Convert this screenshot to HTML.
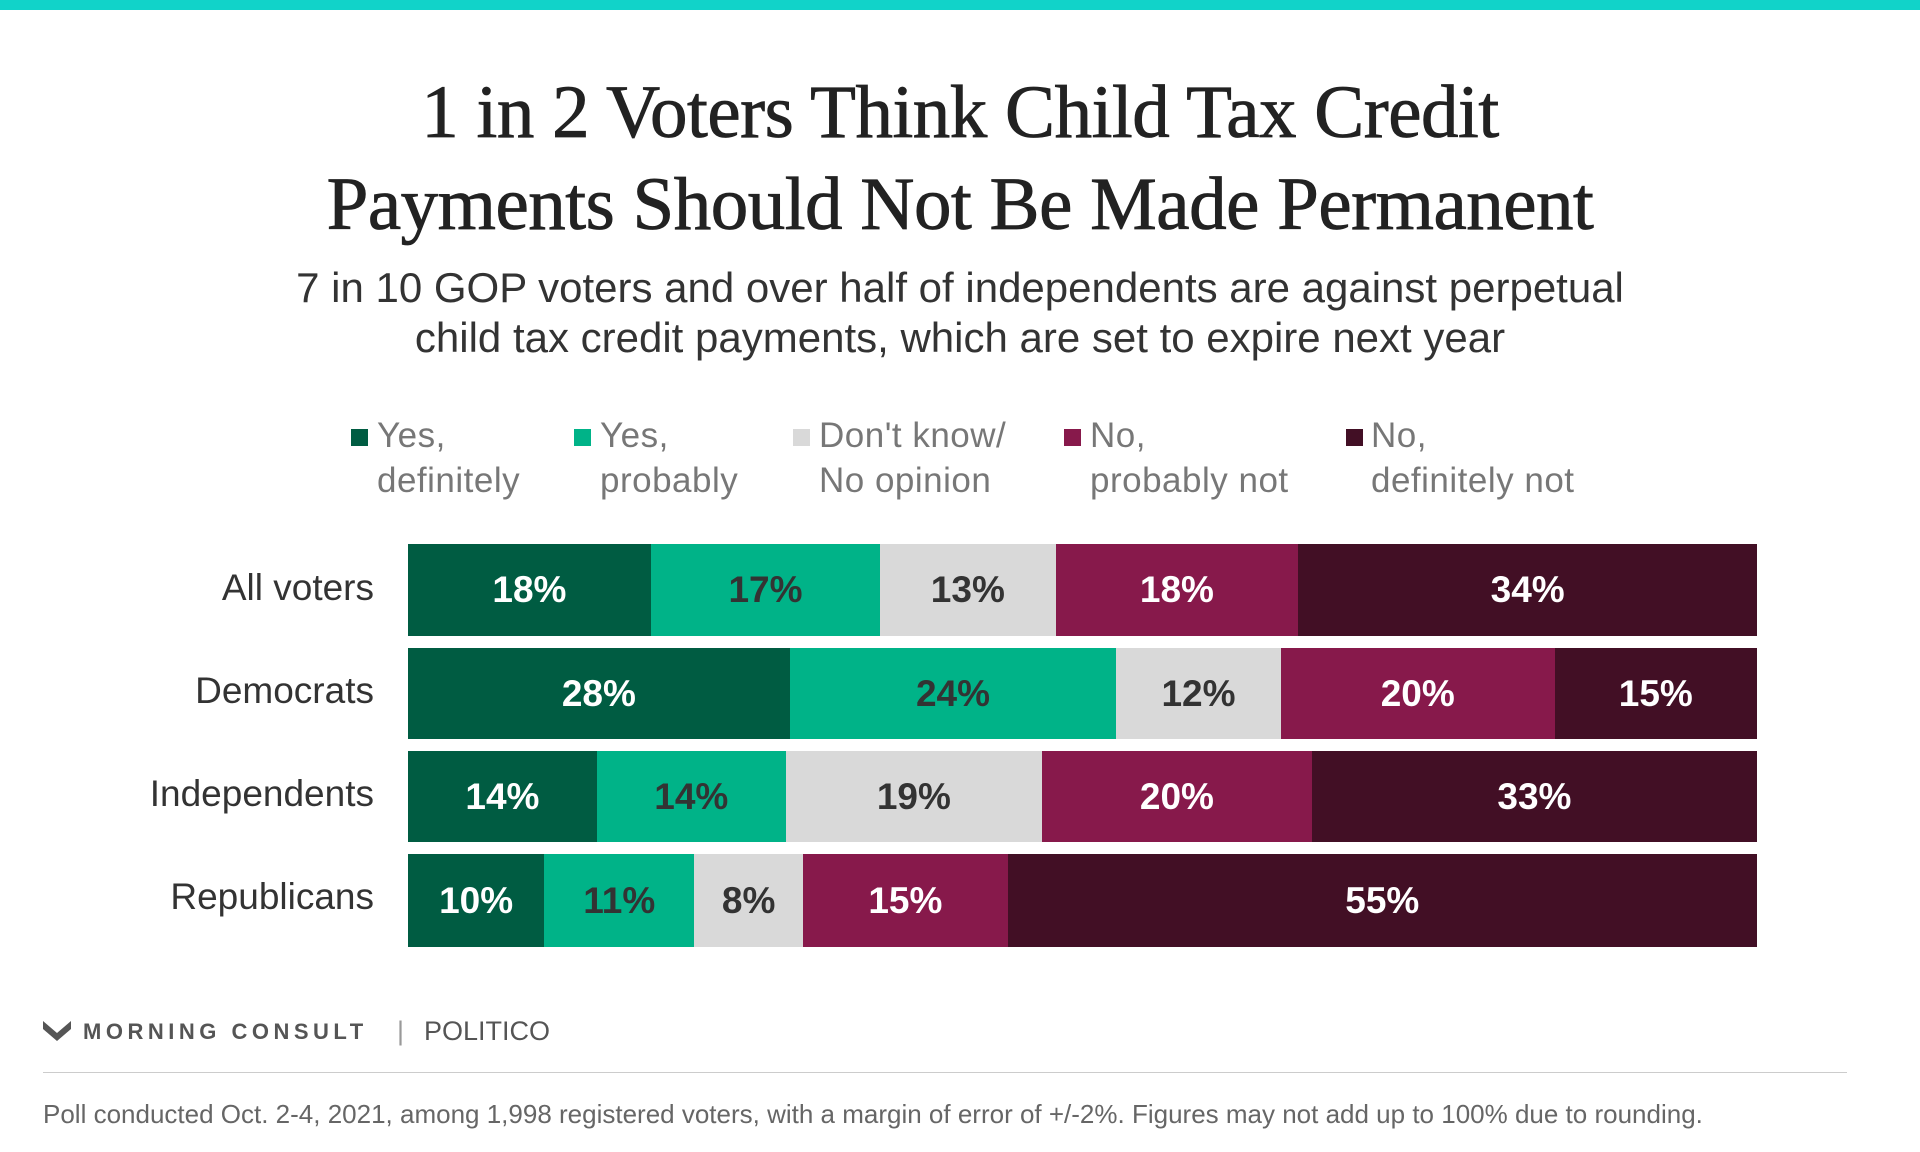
<!DOCTYPE html>
<html><head><meta charset="utf-8"><style>
body{margin:0;width:1920px;height:1152px;background:#fff;position:relative;overflow:hidden;font-family:"Liberation Sans",sans-serif}
.a{position:absolute;white-space:nowrap}
.t{left:0;width:1920px;text-align:center;font-family:"Liberation Serif",serif;font-size:75px;color:#222;letter-spacing:-0.5px;-webkit-text-stroke:0.8px #222}
.s{left:0;width:1920px;text-align:center;font-size:42px;color:#333}
.sq{position:absolute;width:17px;height:17px}
.lg{font-size:35px;color:#777;line-height:45px;letter-spacing:0.5px}
.row{position:absolute;left:408px;width:1349px;display:flex}
.row div{height:100%;display:flex;align-items:center;justify-content:center;font-weight:bold;font-size:37px;color:#fff}
.c1{background:#005c42}.c2{background:#00b388;color:#333!important}.c3{background:#d9d9d9;color:#333!important}.c4{background:#87194b}.c5{background:#420f25}
.rl{right:1546px;font-size:37px;color:#333;text-align:right}
</style></head><body>
<div class="a" style="left:0;top:0;width:1920px;height:10px;background:#11d3c9"></div>
<div class="a t" style="top:70px">1 in 2 Voters Think Child Tax Credit</div>
<div class="a t" style="top:162px">Payments Should Not Be Made Permanent</div>
<div class="a s" style="top:264px">7 in 10 GOP voters and over half of independents are against perpetual</div>
<div class="a s" style="top:314px">child tax credit payments, which are set to expire next year</div>

<div class="sq c1" style="left:351px;top:429px"></div>
<div class="a lg" style="left:377px;top:413px">Yes,<br>definitely</div>
<div class="sq c2" style="left:574px;top:429px"></div>
<div class="a lg" style="left:600px;top:413px">Yes,<br>probably</div>
<div class="sq c3" style="left:793px;top:429px"></div>
<div class="a lg" style="left:819px;top:413px">Don't know/<br>No opinion</div>
<div class="sq c4" style="left:1064px;top:429px"></div>
<div class="a lg" style="left:1090px;top:413px">No,<br>probably not</div>
<div class="sq c5" style="left:1346px;top:429px"></div>
<div class="a lg" style="left:1371px;top:413px">No,<br>definitely not</div>

<div class="a rl" style="top:567px">All voters</div>
<div class="row" style="top:544px;height:92px">
<div class="c1" style="flex:18">18%</div><div class="c2" style="flex:17">17%</div><div class="c3" style="flex:13">13%</div><div class="c4" style="flex:18">18%</div><div class="c5" style="flex:34">34%</div></div>
<div class="a rl" style="top:670px">Democrats</div>
<div class="row" style="top:648px;height:91px">
<div class="c1" style="flex:28.3">28%</div><div class="c2" style="flex:24.2">24%</div><div class="c3" style="flex:12.2">12%</div><div class="c4" style="flex:20.3">20%</div><div class="c5" style="flex:15">15%</div></div>
<div class="a rl" style="top:773px">Independents</div>
<div class="row" style="top:751px;height:91px">
<div class="c1" style="flex:14">14%</div><div class="c2" style="flex:14">14%</div><div class="c3" style="flex:19">19%</div><div class="c4" style="flex:20">20%</div><div class="c5" style="flex:33">33%</div></div>
<div class="a rl" style="top:876px">Republicans</div>
<div class="row" style="top:854px;height:93px">
<div class="c1" style="flex:10">10%</div><div class="c2" style="flex:11">11%</div><div class="c3" style="flex:8">8%</div><div class="c4" style="flex:15">15%</div><div class="c5" style="flex:55">55%</div></div>

<svg class="a" style="left:43px;top:1021px" width="28" height="22" viewBox="0 0 28 22"><path d="M0 0 L14 12 L28 0 L28 8 L14 20 L0 8 Z" fill="#555"/></svg>
<div class="a" style="left:83px;top:1019px;font-size:22px;font-weight:bold;color:#555;letter-spacing:4.5px">MORNING CONSULT</div>
<div class="a" style="left:397px;top:1016px;font-size:27px;color:#999">|</div>
<div class="a" style="left:424px;top:1016px;font-size:27px;color:#555">POLITICO</div>
<div class="a" style="left:43px;top:1072px;width:1804px;height:1px;background:#ccc"></div>
<div class="a" style="left:43px;top:1099px;font-size:26px;color:#666">Poll conducted Oct. 2-4, 2021, among 1,998 registered voters, with a margin of error of +/-2%. Figures may not add up to 100% due to rounding.</div>
</body></html>
